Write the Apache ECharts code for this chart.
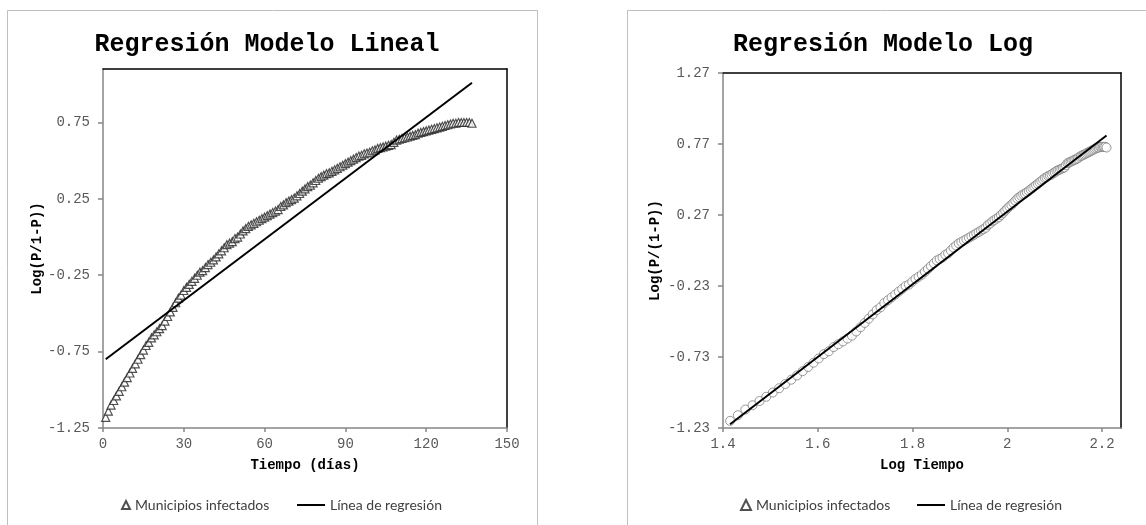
<!DOCTYPE html>
<html>
<head>
<meta charset="utf-8">
<script src="https://cdn.jsdelivr.net/npm/echarts@6/dist/echarts.min.js"></script>
<style>
html,body{margin:0;padding:0;background:#fff;}
#chart{width:1146px;height:525px;}
</style>
</head>
<body>
<div id="chart"></div>
<script>
// ---- Data ----
const dias = Array.from({length: 137}, (_, i) => i + 1); // one observation per day
const logitP = [
 -1.18,-1.14,-1.10,-1.07,-1.04,-1.01,-0.98,-0.95,-0.92,-0.89,
 -0.86,-0.83,-0.80,-0.77,-0.74,-0.71,-0.69,-0.66,-0.64,-0.62,
 -0.60,-0.58,-0.55,-0.52,-0.49,-0.46,-0.43,-0.40,-0.38,-0.35,
 -0.33,-0.31,-0.29,-0.27,-0.25,-0.23,-0.22,-0.20,-0.18,-0.165,
 -0.15,-0.13,-0.11,-0.09,-0.07,-0.05,-0.04,-0.03,-0.01,0.00,
 0.02,0.04,0.055,0.07,0.08,0.09,0.10,0.11,0.12,0.13,
 0.14,0.15,0.16,0.17,0.18,0.20,0.21,0.225,0.235,0.245,
 0.255,0.27,0.285,0.30,0.315,0.33,0.34,0.355,0.37,0.385,
 0.395,0.405,0.415,0.42,0.43,0.44,0.45,0.46,0.47,0.48,
 0.49,0.50,0.51,0.52,0.53,0.535,0.545,0.55,0.555,0.565,
 0.57,0.58,0.585,0.59,0.595,0.60,0.605,0.62,0.635,0.64,
 0.645,0.65,0.655,0.66,0.665,0.67,0.68,0.685,0.69,0.695,
 0.70,0.705,0.71,0.715,0.72,0.725,0.73,0.735,0.74,0.745,
 0.745,0.75,0.75,0.75,0.75,0.75,0.745
];
const desfaseDias = 25; // time origin offset used in the log model
const logTiempo = dias.map(d => Math.log10(d + desfaseDias));

// regression line end points
const linealX = [1, 137];
const linealY = [-0.80, 1.01];
const logX = [1.415, 2.2095];
const logY = [-1.204, 0.83];

// axis ticks
const xTicksLineal = {min: 0, max: 150, interval: 30};
const yTicksLineal = {min: -1.25, max: 1.1, interval: 0.5};
const xTicksLog = {min: 1.4, max: 2.24, interval: 0.2};
const yTicksLog = {min: -1.23, max: 1.27, interval: 0.5};

const serieNombre = 'Municipios infectados';
const lineaNombre = 'Línea de regresión';

// ---- Chart ----
const mono = "'Courier New','Liberation Mono',monospace";
const sans = "Lato,'Noto Sans',sans-serif";
const chart = echarts.init(document.getElementById('chart'), null, {renderer: 'canvas'});

function xAxisCfg(grid, t, name, fmt) {
  return {
    type: 'value', gridIndex: grid, min: t.min, max: t.max, interval: t.interval, position: 'bottom',
    name: name, nameLocation: 'middle', nameGap: 30, nameMoveOverlap: false,
    nameTextStyle: {fontFamily: mono, fontWeight: 'bold', fontSize: 14, color: '#000'},
    axisLine: {show: true, onZero: false, lineStyle: {color: '#868686', width: 1.5}},
    axisTick: {show: true, length: 4, lineStyle: {color: '#868686', width: 1.5}},
    axisLabel: {fontFamily: mono, fontSize: 14, color: '#595959', margin: 9, showMaxLabel: fmt ? false : true,
      formatter: fmt || (v => String(v))},
    splitLine: {show: false}
  };
}
function yAxisCfg(grid, t, name, gap, showMax) {
  return {
    type: 'value', gridIndex: grid, min: t.min, max: t.max, interval: t.interval, position: 'left',
    name: name, nameLocation: 'middle', nameGap: gap, nameRotate: 90, nameMoveOverlap: false,
    nameTextStyle: {fontFamily: mono, fontWeight: 'bold', fontSize: 14, color: '#000'},
    axisLine: {show: true, onZero: false, lineStyle: {color: '#868686', width: 1.5}},
    axisTick: {show: true, length: 5, lineStyle: {color: '#868686', width: 1.5}},
    axisLabel: {fontFamily: mono, fontSize: 14, color: '#595959', margin: 13, showMaxLabel: showMax,
      formatter: v => v.toFixed(2)},
    splitLine: {show: false}
  };
}
function frameAxis(kind, grid, t) {
  return {
    type: 'value', gridIndex: grid, min: t.min, max: t.max, position: kind === 'x' ? 'top' : 'right',
    axisLine: {show: true, onZero: false, lineStyle: {color: '#000', width: 1.5}},
    axisTick: {show: false}, axisLabel: {show: false}, splitLine: {show: false}
  };
}

const legendText = {fontFamily: sans, fontSize: 14, color: '#404040'};

const option = {
  backgroundColor: '#fff',
  animation: false,
  graphic: [
    {type: 'rect', shape: {x: 7.5, y: 10.5, width: 530, height: 560}, style: {fill: 'none', stroke: '#bfbfbf', lineWidth: 1}, silent: true, z: -10},
    {type: 'rect', shape: {x: 627.5, y: 10.5, width: 560, height: 560}, style: {fill: 'none', stroke: '#bfbfbf', lineWidth: 1}, silent: true, z: -10}
  ],
  title: [
    {text: 'Regresión Modelo Lineal', left: 262, top: 27, textAlign: 'center',
     textStyle: {fontFamily: mono, fontWeight: 'bold', fontSize: 25, color: '#000'}},
    {text: 'Regresión Modelo Log', left: 878, top: 27, textAlign: 'center',
     textStyle: {fontFamily: mono, fontWeight: 'bold', fontSize: 25, color: '#000'}}
  ],
  legend: [
    {data: [serieNombre], left: 121, top: 498, padding: 0, itemWidth: 8, itemHeight: 8, itemGap: 13, textStyle: legendText},
    {data: [{name: lineaNombre, icon: 'rect'}], left: 297, top: 498, padding: 0, itemWidth: 28, itemHeight: 2, itemGap: 3, textStyle: legendText},
    {data: [serieNombre], left: 740, top: 498, padding: 0, itemWidth: 10, itemHeight: 10, itemGap: 12, textStyle: legendText},
    {data: [{name: lineaNombre, icon: 'rect'}], left: 917, top: 498, padding: 0, itemWidth: 28, itemHeight: 2, itemGap: 3, textStyle: legendText}
  ],
  grid: [
    {left: 103, top: 69, width: 404, height: 359, show: false},
    {left: 723, top: 73, width: 398, height: 355, show: false}
  ],
  xAxis: [
    xAxisCfg(0, xTicksLineal, 'Tiempo (días)'),
    xAxisCfg(1, xTicksLog, 'Log Tiempo', v => String(Math.round(v * 10) / 10)),
    frameAxis('x', 0, xTicksLineal),
    frameAxis('x', 1, xTicksLog)
  ],
  yAxis: [
    yAxisCfg(0, yTicksLineal, 'Log(P/1-P))', 59, false),
    yAxisCfg(1, yTicksLog, 'Log(P/(1-P))', 61, true),
    frameAxis('y', 0, yTicksLineal),
    frameAxis('y', 1, yTicksLog)
  ],
  series: [
    {name: serieNombre, type: 'scatter', xAxisIndex: 0, yAxisIndex: 0, symbol: 'triangle', symbolSize: 8,
     itemStyle: {color: '#fff', borderColor: '#262626', borderWidth: 1.2},
     data: dias.map((d, i) => [d, logitP[i]])},
    {name: lineaNombre, type: 'line', xAxisIndex: 0, yAxisIndex: 0, symbol: 'none',
     itemStyle: {color: '#000'}, lineStyle: {color: '#000', width: 2},
     data: linealX.map((x, i) => [x, linealY[i]])},
    {name: serieNombre, type: 'scatter', xAxisIndex: 1, yAxisIndex: 1, symbol: 'circle', symbolSize: 9,
     itemStyle: {color: '#fff', borderColor: '#7f7f7f', borderWidth: 1},
     data: logTiempo.map((x, i) => [x, logitP[i]])},
    {name: lineaNombre, type: 'line', xAxisIndex: 1, yAxisIndex: 1, symbol: 'none',
     itemStyle: {color: '#000'}, lineStyle: {color: '#000', width: 2},
     data: logX.map((x, i) => [x, logY[i]])}
  ]
};
chart.setOption(option);
</script>
</body>
</html>
